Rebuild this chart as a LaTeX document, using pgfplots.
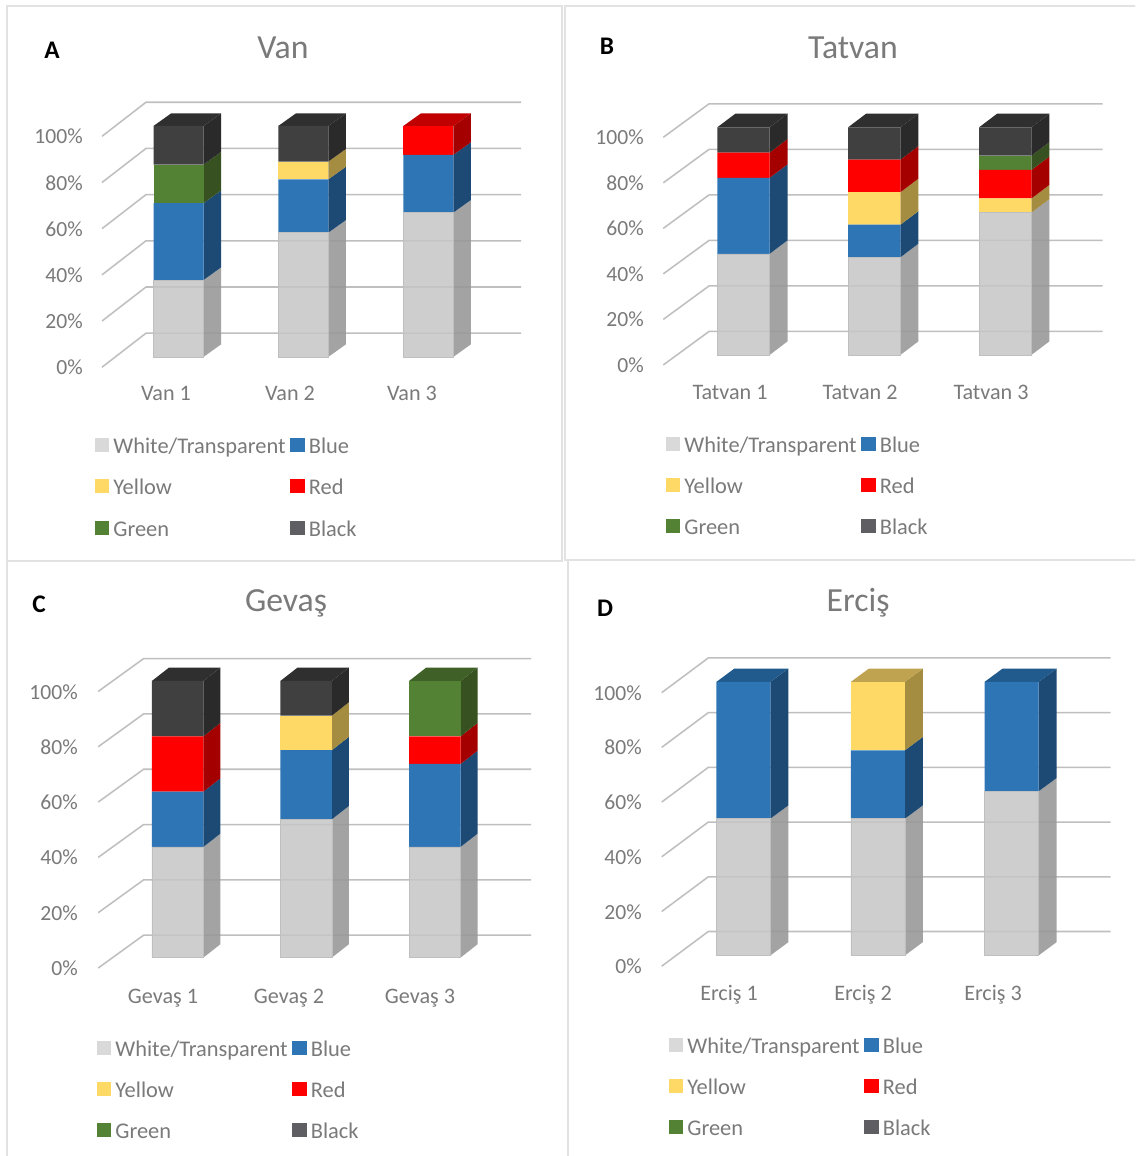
\documentclass[border=0pt]{standalone}
\usepackage{fontspec}
\setmainfont{Carlito}
\usepackage{pgfplots}
\usepackage{pgfplotstable}
\pgfplotsset{compat=1.18}

% fronts of the bars
\definecolor{cWhite}{HTML}{C6C6C6}
\definecolor{cBlue}{HTML}{2E75B6}
\definecolor{cYellow}{HTML}{FFD966}
\definecolor{cRed}{HTML}{FF0000}
\definecolor{cGreen}{HTML}{548235}
\definecolor{cBlack}{HTML}{404040}
% shaded right-hand sides
\definecolor{sWhite}{HTML}{999999}
\definecolor{sBlue}{HTML}{1C4A75}
\definecolor{sYellow}{HTML}{A48C40}
\definecolor{sRed}{HTML}{A50000}
\definecolor{sGreen}{HTML}{375121}
\definecolor{sBlack}{HTML}{2A2A2A}
% lids
\definecolor{tWhite}{HTML}{B0B0B0}
\definecolor{tBlue}{HTML}{215A8C}
\definecolor{tYellow}{HTML}{BFA350}
\definecolor{tRed}{HTML}{C00000}
\definecolor{tGreen}{HTML}{3F6128}
\definecolor{tBlack}{HTML}{2F2F2F}
% legend swatches
\definecolor{lWhite}{HTML}{D9D9D9}
\definecolor{lBlack}{HTML}{5F5F63}
\definecolor{gridc}{HTML}{BFBFBF}
\definecolor{framec}{HTML}{E2E2E2}
\definecolor{textc}{HTML}{7A7A7A}

\pgfplotstableread{
pos white blue yellow red green black
178.5 33.3 33.3 0 0 16.7 16.7
303.3 53.8 23.1 7.7 0 0 15.4
428.3 62.5 25 0 12.5 0 0
}\tabVan
\pgfplotstableread{
pos white blue yellow red green black
743.5 44.4 33.4 0 11.1 0 11.1
874.3 42.9 14.3 14.3 14.3 0 14.2
1005.3 62.5 0 6.25 12.5 6.25 12.5
}\tabTatvan
\pgfplotstableread{
pos white blue yellow red green black
177.7 40 20 0 20 0 20
306.2 50 25 12.5 0 0 12.5
434.9 40 30 0 10 20 0
}\tabGevas
\pgfplotstableread{
pos white blue yellow red green black
743.3 50 50 0 0 0 0
877.8 50 25 25 0 0 0
1011.5 60 40 0 0 0 0
}\tabErcis

% one coloured slice of a bar's side, plus the lid on the top slice
\newcommand\sideslice[5]{%
  \pgfplotstablegetelem{#2}{#3}\of#1%
  \pgfmathsetmacro\seg{\pgfplotsretval}%
  \pgfmathsetmacro\hi{\lo+\seg}%
  \ifdim\seg pt>0pt
    \pgfmathsetmacro\loB{\lo+\Dy/\H*100}%
    \pgfmathsetmacro\hiB{\hi+\Dy/\H*100}%
    \edef\doit{\noexpand\addplot[#4,draw=none,forget plot]
      coordinates {(\xR,\lo) (\xRR,\loB) (\xRR,\hiB) (\xR,\hi)};}\doit
    \ifdim\hi pt>99.9pt
      \edef\doit{\noexpand\addplot[fill=#5,draw=none,forget plot]
        coordinates {(\xL,\hi) (\xLL,\hiB) (\xRR,\hiB) (\xR,\hi)};}\doit
    \fi
  \fi
  \let\lo\hi
}
\newcommand\barside[2]{%
  \pgfplotstablegetelem{#2}{pos}\of#1%
  \pgfmathsetmacro\xL{\pgfplotsretval-\Wd/2}%
  \pgfmathsetmacro\xR{\pgfplotsretval+\Wd/2}%
  \pgfmathsetmacro\xLL{\xL+\Dx}%
  \pgfmathsetmacro\xRR{\xR+\Dx}%
  \def\lo{0}%
  \sideslice{#1}{#2}{white}{fill=sWhite,fill opacity=0.9}{tWhite}%
  \sideslice{#1}{#2}{blue}{fill=sBlue}{tBlue}%
  \sideslice{#1}{#2}{yellow}{fill=sYellow}{tYellow}%
  \sideslice{#1}{#2}{red}{fill=sRed}{tRed}%
  \sideslice{#1}{#2}{green}{fill=sGreen}{tGreen}%
  \sideslice{#1}{#2}{black}{fill=sBlack}{tBlack}%
}

% #1 table, #2 tick positions, #3 tick names
\newcommand\drawpanel[3]{%
  \pgfmathsetmacro\yu{\H*0.0075}%
  \begin{axis}[
    at={({\Xmin*0.75pt},{-(\Bot+0.2)*0.75pt})}, anchor=south west,
    x=0.75pt, y=\yu pt, xmin=\Xmin, xmax=1135, ymin=0, ymax=100,
    hide axis, clip=false]
    \pgfplotsinvokeforeach{0,20,40,60,80,100}{%
      \pgfmathsetmacro\a{##1-\FrontOff/\H*100}%
      \pgfmathsetmacro\b{##1+\BackOff/\H*100}%
      \edef\doit{\noexpand\addplot[gridc,line width=1.15pt,forget plot]
        coordinates {(\GL,\a) (\GB,\b) (\GR,\b)};}\doit
    }
    \barside{#1}{0}\barside{#1}{1}\barside{#1}{2}
  \end{axis}
  \pgfmathsetmacro\legy{(\Bot-\LegY)/\H*100}%
  \begin{axis}[
    at={({\Xmin*0.75pt},{-(\Bot+0.2)*0.75pt})}, anchor=south west,
    x=0.75pt, y=\yu pt, xmin=\Xmin, xmax=1135, ymin=0, ymax=100,
    ybar stacked, bar width=\Wd*0.75pt, clip=false,
    axis line style={draw=none}, major tick length=0pt,
    axis x line*=bottom, axis y line*=left,
    xtick={#2}, xticklabels={#3},
    ytick={0,20,40,60,80,100},
    yticklabels={0\%,20\%,40\%,60\%,80\%,100\%},
    tick label style={text=textc, inner sep=0pt},
    yticklabel style={font=\fontsize{16.2}{18}\selectfont, anchor=east, yshift=-(\FrontOff+0.3)*0.75pt},
    xticklabel style={font=\fontsize{16.6}{18}\selectfont, anchor=center, yshift=-(\LabOff+0.3)*0.75pt},
    legend columns=2,
    legend cell align=left,
    legend style={at={(axis cs:\LegX,\legy)}, anchor=north west, draw=none, fill=none,
      inner sep=0pt, outer sep=0pt, column sep=3.6pt, row sep=15.75pt,
      font=\fontsize{16.8}{18}\selectfont, text=textc,
      nodes={inner sep=0pt, text height=11.5pt, text depth=3.5pt}},
    legend image code/.code={\fill[##1] (0pt,-2.4pt) rectangle (9.8pt,7.4pt);},
  ]
    \addplot[fill=cWhite, draw=gridc, line width=0.4pt, fill opacity=0.85, forget plot] table[x=pos,y=white]{#1};
    \addplot[fill=cBlue, draw=none, forget plot] table[x=pos,y=blue]{#1};
    \addplot[fill=cYellow, draw=none, forget plot] table[x=pos,y=yellow]{#1};
    \addplot[fill=cRed, draw=none, forget plot] table[x=pos,y=red]{#1};
    \addplot[fill=cGreen, draw=none, forget plot] table[x=pos,y=green]{#1};
    \addplot[fill=cBlack, draw=none, forget plot] table[x=pos,y=black]{#1};
    \addlegendimage{lWhite}\addlegendentry{White/Transparent}
    \addlegendimage{cBlue}\addlegendentry{Blue}
    \addlegendimage{cYellow}\addlegendentry{Yellow}
    \addlegendimage{cRed}\addlegendentry{Red}
    \addlegendimage{cGreen}\addlegendentry{Green}
    \addlegendimage{lBlack}\addlegendentry{Black}
  \end{axis}%
}

\begin{document}
\begin{tikzpicture}
  \clip (0,0) rectangle (851.25pt,-867pt);
  \begin{scope}[x=0.75pt,y=-0.75pt]
    \fill[white] (0,0) rectangle (1135,1156);
    % panel frames
    \draw[framec,line width=1.5pt] (6.5,1170) -- (6.5,6.5) -- (561.5,6.5) -- (561.5,561) -- (6.5,561);
    \draw[framec,line width=1.5pt] (1150,6.5) -- (565,6.5) -- (565,559.5) -- (1150,559.5);
    \draw[framec,line width=1.5pt] (567.5,1170) -- (567.5,560);
    % panel titles and letters
    \node[text=textc,font=\fontsize{25.3}{28}\selectfont] at (283,48) {Van};
    \node[text=textc,font=\fontsize{25.3}{28}\selectfont] at (853,48) {Tatvan};
    \node[text=textc,font=\fontsize{25.3}{28}\selectfont] at (286,603) {Gevaş};
    \node[text=textc,font=\fontsize{25.3}{28}\selectfont] at (858,603) {Erciş};
    \node[font=\fontsize{19}{21}\bfseries\selectfont] at (52,50) {A};
    \node[font=\fontsize{19}{21}\bfseries\selectfont] at (607,46) {B};
    \node[font=\fontsize{19}{21}\bfseries\selectfont] at (39,604) {C};
    \node[font=\fontsize{19}{21}\bfseries\selectfont] at (605,608) {D};
  \end{scope}

  % Van
  \def\Xmin{83}\def\Bot{356.7}\def\H{230.7}\def\Wd{50}\def\Dx{17.5}\def\Dy{12.5}
  \def\BackOff{23.7}\def\FrontOff{10.3}\def\LabOff{36.5}
  \def\GL{102}\def\GB{146}\def\GR{521}\def\LegX{95}\def\LegY{438}
  \drawpanel{\tabVan}{166,290,412}{Van 1,Van 2,Van 3}

  % Tatvan
  \def\Xmin{644}\def\Bot{354.7}\def\H{227.4}\def\Wd{52.3}\def\Dx{18}\def\Dy{13.6}
  \def\BackOff{23.4}\def\FrontOff{10}\def\LabOff{37.2}
  \def\GL{663.3}\def\GB{709}\def\GR{1102.7}\def\LegX{666}\def\LegY{436.5}
  \drawpanel{\tabTatvan}{730,860,991}{Tatvan 1,Tatvan 2,Tatvan 3}

  % Gevaş
  \def\Xmin{78}\def\Bot{957.3}\def\H{276.3}\def\Wd{51.5}\def\Dx{17}\def\Dy{13.3}
  \def\BackOff{22.3}\def\FrontOff{10.5}\def\LabOff{40.5}
  \def\GL{98.2}\def\GB{143.6}\def\GR{531}\def\LegX{97}\def\LegY{1040.5}
  \drawpanel{\tabGevas}{163,289,420}{Gevaş 1,Gevaş 2,Gevaş 3}

  % Erciş
  \def\Xmin{642}\def\Bot{955.3}\def\H{273.3}\def\Wd{54}\def\Dx{18}\def\Dy{13.3}
  \def\BackOff{24}\def\FrontOff{10.7}\def\LabOff{39}
  \def\GL{661.7}\def\GB{708.3}\def\GR{1110.7}\def\LegX{669}\def\LegY{1037.5}
  \drawpanel{\tabErcis}{729,863,993}{Erciş 1,Erciş 2,Erciş 3}
\end{tikzpicture}
\end{document}
